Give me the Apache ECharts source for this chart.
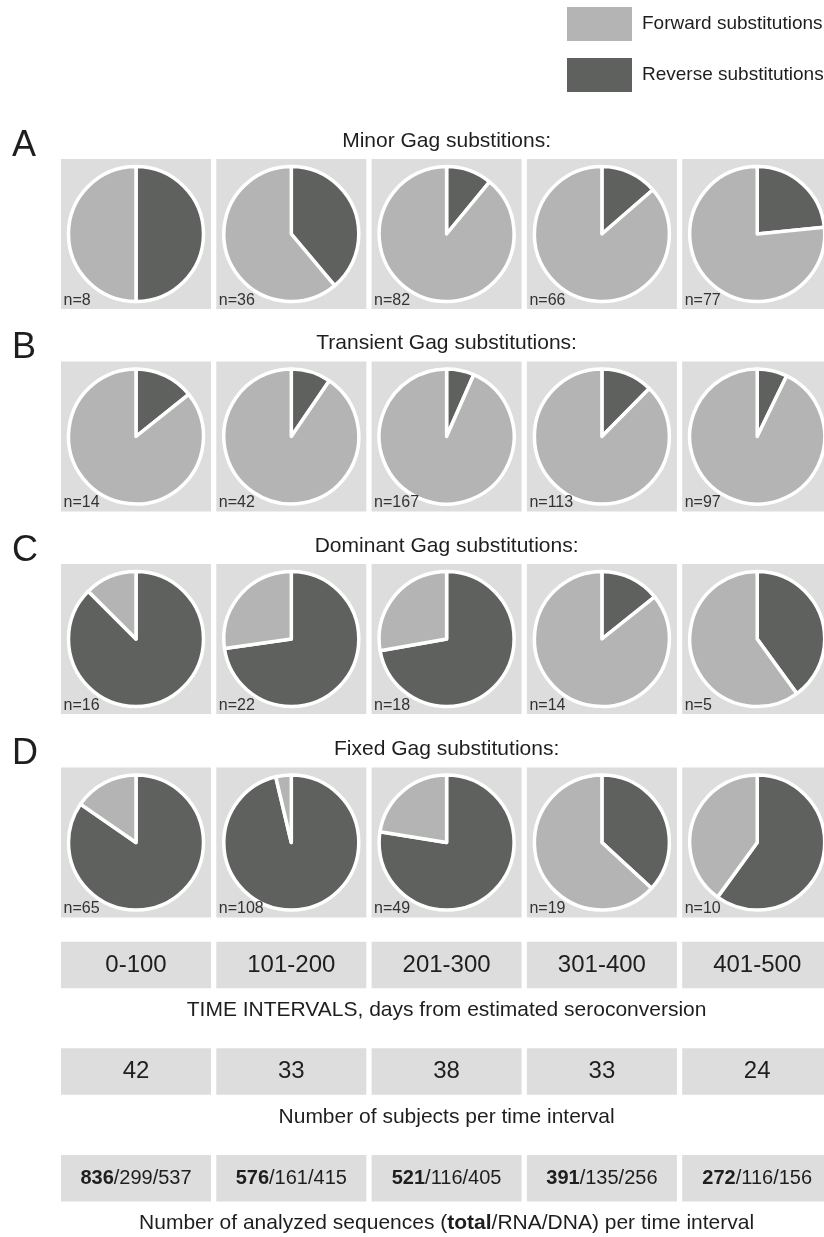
<!DOCTYPE html>
<html>
<head>
<meta charset="utf-8">
<script src="https://cdn.jsdelivr.net/npm/echarts@6/dist/echarts.min.js"></script>
<style>
  html, body { margin: 0; padding: 0; background: #fff; }
  #chart { width: 824px; height: 1237px; }
</style>
</head>
<body>
<div id="chart"></div>
<script>
// data
const intervals = ['0-100', '101-200', '201-300', '301-400', '401-500'];
const panelLetters = ['A', 'B', 'C', 'D'];
const panelTitles = [
  'Minor Gag substitions:',
  'Transient Gag substitutions:',
  'Dominant Gag substitutions:',
  'Fixed Gag substitutions:',
];
const legendNames = ['Forward substitutions', 'Reverse substitutions'];

const minorN = [8, 36, 82, 66, 77];
const minorForward = [4, 22, 73, 57, 59];
const minorReverse = [4, 14, 9, 9, 18];

const transientN = [14, 42, 167, 113, 97];
const transientForward = [12, 38, 156, 99, 90];
const transientReverse = [2, 4, 11, 14, 7];

const dominantN = [16, 22, 18, 14, 5];
const dominantForward = [2, 6, 5, 12, 3];
const dominantReverse = [14, 16, 13, 2, 2];

const fixedN = [65, 108, 49, 19, 10];
const fixedForward = [10, 4, 11, 12, 4];
const fixedReverse = [55, 104, 38, 7, 6];

const subjects = [42, 33, 38, 33, 24];
const seqTotal = [836, 576, 521, 391, 272];
const seqRNA = [299, 161, 116, 135, 116];
const seqDNA = [537, 415, 405, 256, 156];

const captions = [
  'TIME INTERVALS, days from estimated seroconversion',
  'Number of subjects per time interval',
  'Number of analyzed sequences ({b|total}/RNA/DNA) per time interval',
];

// layout
const FONT = '"Liberation Sans", Arial, Helvetica, sans-serif';
const TEXT = '#1e1e1e';
const CELL_BG = '#dddddd';
const C_FWD = '#b3b4b3';
const C_REV = '#5f615f';
const COL_X0 = 61, COL_PITCH = 155.3, CELL_W = 150, CELL_H = 150;
const ROW_TOPS = [159, 361.5, 564, 767.5];
const TABLE_TOPS = [941.7, 1048.3, 1155];
const TABLE_H = 46.5;
const MID_X = COL_X0 + (4 * COL_PITCH + CELL_W) / 2;

const panels = [
  { n: minorN, fwd: minorForward, rev: minorReverse },
  { n: transientN, fwd: transientForward, rev: transientReverse },
  { n: dominantN, fwd: dominantForward, rev: dominantReverse },
  { n: fixedN, fwd: fixedForward, rev: fixedReverse },
];

const chart = echarts.init(document.getElementById('chart'), null, { renderer: 'canvas' });

const elements = [];
const series = [];
const txt = (x, y, text, size, extra) => ({
  type: 'text', x, y, z: 10, silent: true,
  style: Object.assign({
    text, fill: TEXT, fontSize: size, fontFamily: FONT,
    textAlign: 'center', textVerticalAlign: 'middle',
  }, extra || {}),
});

panels.forEach((p, r) => {
  const top = ROW_TOPS[r];
  elements.push(txt(12, top - 13, panelLetters[r], 36, { textAlign: 'left' }));
  elements.push(txt(MID_X, top - 18, panelTitles[r], 21));
  p.n.forEach((n, c) => {
    const x = COL_X0 + c * COL_PITCH;
    elements.push({ type: 'rect', z: 0, silent: true, shape: { x, y: top, width: CELL_W, height: CELL_H }, style: { fill: CELL_BG } });
    elements.push(txt(x + 2.5, top + CELL_H - 8.5, 'n=' + n, 16, { textAlign: 'left', fill: '#333333' }));
    series.push({
      type: 'pie',
      silent: true,
      center: [x + CELL_W / 2, top + CELL_H / 2],
      radius: 67.5,
      startAngle: 90,
      clockwise: true,
      label: { show: false },
      labelLine: { show: false },
      emphasis: { disabled: true },
      itemStyle: { borderColor: '#ffffff', borderWidth: 3.5 },
      data: [
        { name: legendNames[1], value: p.rev[c], itemStyle: { color: C_REV } },
        { name: legendNames[0], value: p.fwd[c], itemStyle: { color: C_FWD } },
      ],
    });
  });
});

// bottom tables
const tableTexts = [
  intervals.map((s) => s),
  subjects.map((s) => String(s)),
  seqTotal.map((t, i) => '{b|' + t + '}/' + seqRNA[i] + '/' + seqDNA[i]),
];
const tableSizes = [24, 24, 20];
tableTexts.forEach((row, r) => {
  const top = TABLE_TOPS[r];
  row.forEach((s, c) => {
    const x = COL_X0 + c * COL_PITCH;
    elements.push({ type: 'rect', z: 0, silent: true, shape: { x, y: top, width: CELL_W, height: TABLE_H }, style: { fill: CELL_BG } });
    elements.push(txt(x + CELL_W / 2, top + TABLE_H / 2, s, tableSizes[r], {
      rich: { b: { fontWeight: 'bold', fontSize: tableSizes[r], fontFamily: FONT, fill: TEXT } },
    }));
  });
  elements.push(txt(MID_X, top + 68.5, captions[r], 21, {
    rich: { b: { fontWeight: 'bold', fontSize: 21, fontFamily: FONT, fill: TEXT } },
  }));
});

chart.setOption({
  animation: false,
  legend: {
    data: [legendNames[0], legendNames[1]],
    orient: 'vertical',
    left: 567,
    top: 7,
    padding: 0,
    itemWidth: 65,
    itemHeight: 34,
    itemGap: 17,
    icon: 'rect',
    selectedMode: false,
    itemStyle: { borderWidth: 0 },
    textStyle: { fontSize: 19, color: TEXT, fontFamily: FONT, padding: [0, 0, 0, 5] },
  },
  graphic: { elements },
  series,
});
</script>
</body>
</html>
